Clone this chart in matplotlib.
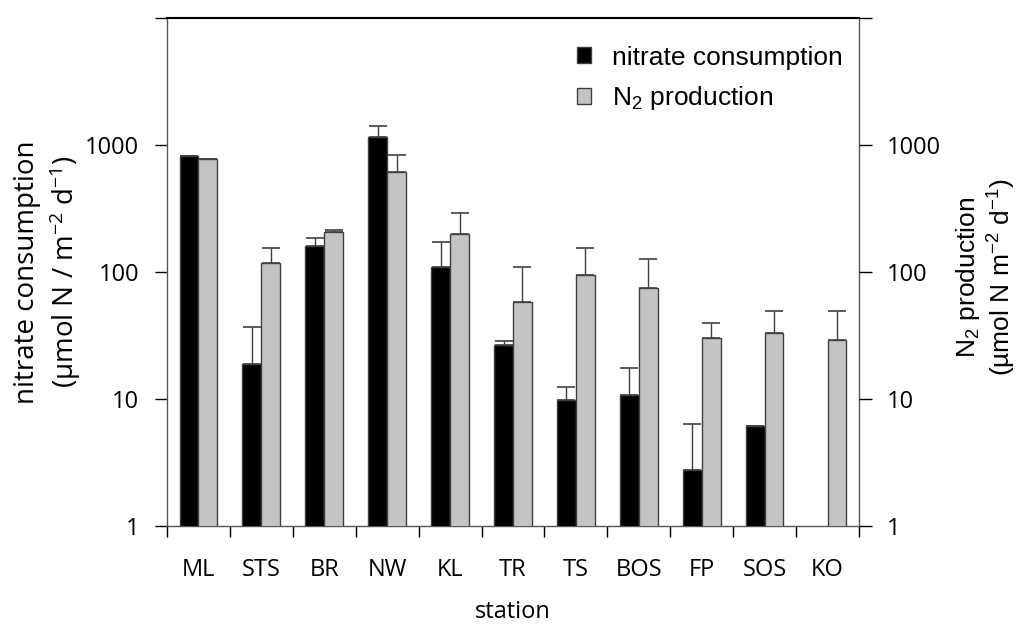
import matplotlib
matplotlib.use("Agg")
import matplotlib.pyplot as plt
import numpy as np
from matplotlib.patches import Patch
from matplotlib.ticker import FixedLocator, NullFormatter, FixedFormatter

plt.rcParams["mathtext.default"] = "regular"

# station data (µmol N m-2 d-1), upper error only
stations = ["ML", "STS", "BR", "NW", "KL", "TR", "TS", "BOS", "FP", "SOS", "KO"]
nitrate = [824, 18.8, 159, 1162, 110, 26.5, 9.9, 10.7, 2.76, 6.1, np.nan]
nitrate_err = [0, 18.1, 26, 241, 61, 2.0, 2.5, 6.8, 3.56, 0, 0]
n2 = [771, 118, 208, 616, 199, 57.7, 94, 75, 30.2, 32.9, 29.1]
n2_err = [0, 36, 7, 213, 94, 51, 60, 52, 9.5, 16.4, 20.2]

FONT = "Open Sans"
EDGE = "#404040"
GREY = "#c4c4c4"

fig = plt.figure(figsize=(10.27, 6.26), dpi=100)
ax = fig.add_axes([0.1626, 0.1597, 0.6738, 0.8115])

x = np.arange(len(stations))
w = 0.30
nit = np.array(nitrate)
has_nit = ~np.isnan(nit)
ax.bar(x[has_nit] - w / 2, nit[has_nit], w, color="black", edgecolor=EDGE,
       linewidth=1, zorder=3)
ax.bar(x + w / 2, n2, w, color=GREY, edgecolor=EDGE, linewidth=1, zorder=3)

err_kw = dict(fmt="none", ecolor=EDGE, elinewidth=1, capsize=6.8, capthick=1.2,
              zorder=2)
ne = np.array(nitrate_err)
ax.errorbar(x[has_nit] - w / 2, nit[has_nit],
            yerr=[np.zeros(has_nit.sum()), ne[has_nit]], **err_kw)
ax.errorbar(x + w / 2, n2, yerr=[np.zeros(len(n2)), n2_err], **err_kw)

ax.set_yscale("log")
ax.set_ylim(1, 10000)
ax.set_xlim(-0.5, len(stations) - 0.5)

yt = [1, 10, 100, 1000, 10000]
ylabels = ["1", "10", "100", "1000", ""]
ax.yaxis.set_major_locator(FixedLocator(yt))
ax.yaxis.set_major_formatter(FixedFormatter(ylabels))
ax.yaxis.set_minor_locator(FixedLocator([]))
ax.tick_params(axis="y", direction="out", length=9, width=1, pad=11,
               labelsize=17)

# station names centred, ticks between groups
ax.set_xticks(x)
ax.set_xticklabels(stations)
ax.set_xticks(np.arange(-0.5, len(stations), 1.0), minor=True)
ax.xaxis.set_minor_formatter(NullFormatter())
ax.tick_params(axis="x", which="major", length=0, pad=23, labelsize=17)
ax.tick_params(axis="x", which="minor", direction="out", length=8, width=1)

for lab in ax.get_xticklabels() + ax.get_yticklabels():
    lab.set_fontfamily(FONT)

for side in ["left", "right", "bottom"]:
    ax.spines[side].set_color("#555555")
    ax.spines[side].set_linewidth(1)
ax.spines["top"].set_color("black")
ax.spines["top"].set_linewidth(1.5)

ax.set_xlabel("station", fontsize=17, family=FONT, labelpad=13)
ax.set_ylabel("nitrate consumption\n(µmol N / m$^{-2}$ d$^{-1}$)",
              fontsize=20, family=FONT, linespacing=1.25, va="center")
ax.yaxis.set_label_coords(-0.172, 0.5)

# right-hand axis, same scale
ax2 = ax.twinx()
ax2.set_yscale("log")
ax2.set_ylim(ax.get_ylim())
ax2.yaxis.set_major_locator(FixedLocator(yt))
ax2.yaxis.set_major_formatter(FixedFormatter(ylabels))
ax2.yaxis.set_minor_locator(FixedLocator([]))
ax2.tick_params(axis="y", direction="out", length=9, width=1, pad=11,
                labelsize=17)
for lab in ax2.get_yticklabels():
    lab.set_fontfamily(FONT)
for side in ax2.spines:
    ax2.spines[side].set_visible(False)
ax2.set_ylabel("N$_2$ production\n(µmol N m$^{-2}$ d$^{-1}$)", fontsize=19,
               family="Liberation Sans", linespacing=1.15, va="center",
               rotation=90)
ax2.yaxis.set_label_coords(1.183, 0.49)

handles = [Patch(facecolor="black", edgecolor=EDGE),
           Patch(facecolor=GREY, edgecolor=EDGE)]
ax.legend(handles, ["nitrate consumption", "N$_2$ production"],
          loc="upper right", bbox_to_anchor=(1.0, 0.977), frameon=False,
          prop={"family": "Liberation Sans", "size": 19},
          handlelength=0.55, handleheight=0.55, handletextpad=0.8,
          labelspacing=0.55, borderaxespad=0.2)

plt.savefig("out.png", dpi=100)
